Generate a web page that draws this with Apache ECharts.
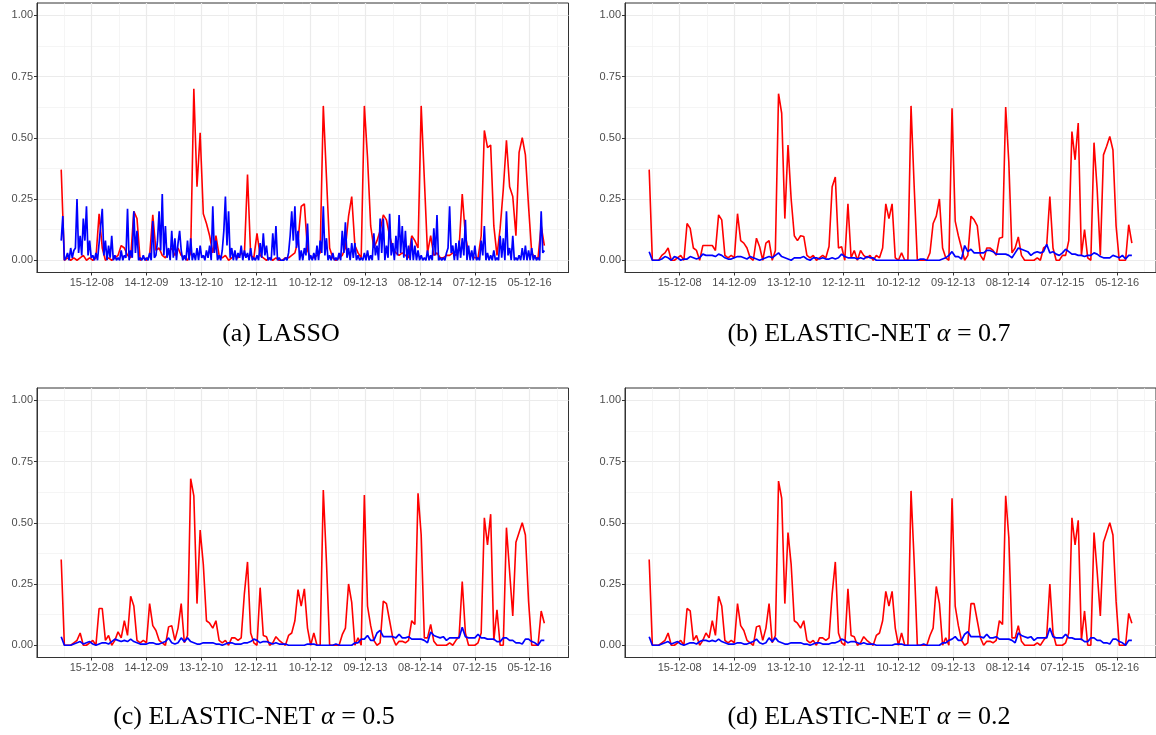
<!DOCTYPE html>
<html lang="en">
<head>
<meta charset="UTF-8">
<title>LASSO / ELASTIC-NET</title>
<script src="https://cdn.jsdelivr.net/npm/echarts@6/dist/echarts.min.js"></script>
<style>
  html, body { margin: 0; padding: 0; background: #fff; }
  #main { width: 1156px; height: 735px; }
</style>
</head>
<body>
<div id="main"></div>
<script>
// x = weeks relative to 15-12-08; series run from week -29 to week 430, evenly spaced
var firstWeek = -29;
var lastWeek = 430;
var tickLabels = ['15-12-08', '14-12-09', '13-12-10', '12-12-11', '10-12-12',
  '09-12-13', '08-12-14', '07-12-15', '05-12-16'];
var yTicks = [0, 0.25, 0.5, 0.75, 1];
var yMinor = [0.125, 0.375, 0.625, 0.875];
var captions = ['(a) LASSO', '(b) ELASTIC-NET {a|α} = 0.7',
  '(c) ELASTIC-NET {a|α} = 0.5', '(d) ELASTIC-NET {a|α} = 0.2'];

var redA = [0.37,0.00,0.01,0.00,0.01,0.00,0.01,0.02,0.00,0.01,
  0.00,0.01,0.19,0.05,0.00,0.01,0.00,0.01,0.02,0.06,
  0.05,0.02,0.01,0.20,0.17,0.00,0.01,0.00,0.02,0.185,
  0.04,0.05,0.02,0.01,0.03,0.05,0.02,0.05,0.02,0.01,
  0.00,0.03,0.70,0.30,0.52,0.19,0.15,0.10,0.03,0.10,
  0.02,0.01,0.02,0.00,0.01,0.02,0.01,0.03,0.02,0.35,
  0.02,0.01,0.11,0.02,0.01,0.00,0.01,0.00,0.01,0.00,
  0.00,0.01,0.01,0.02,0.03,0.08,0.22,0.23,0.04,0.01,
  0.01,0.02,0.03,0.63,0.34,0.05,0.01,0.00,0.01,0.02,
  0.05,0.18,0.26,0.06,0.03,0.01,0.63,0.42,0.14,0.05,
  0.08,0.12,0.185,0.165,0.10,0.05,0.03,0.02,0.03,0.02,
  0.01,0.10,0.08,0.05,0.63,0.33,0.03,0.10,0.02,0.03,
  0.01,0.01,0.02,0.02,0.03,0.02,0.05,0.27,0.10,0.03,
  0.02,0.01,0.01,0.10,0.53,0.46,0.47,0.14,0.02,0.13,
  0.29,0.49,0.30,0.26,0.10,0.44,0.50,0.43,0.22,0.03,
  0.01,0.01,0.14,0.06];
// LASSO blue, read at twice the density (peaks and the dips between them)
var blueA = [0.08,0.18,0.00,0.01,0.03,0.00,0.05,0.01,0.04,0.05,
  0.25,0.03,0.10,0.02,0.17,0.08,0.22,0.02,0.08,0.01,
  0.02,0.00,0.03,0.00,0.00,0.14,0.21,0.02,0.08,0.00,
  0.06,0.01,0.10,0.00,0.02,0.00,0.01,0.00,0.04,0.00,
  0.02,0.01,0.21,0.00,0.04,0.01,0.20,0.03,0.12,0.00,
  0.01,0.00,0.02,0.00,0.01,0.00,0.03,0.00,0.16,0.01,
  0.02,0.08,0.20,0.04,0.27,0.02,0.14,0.01,0.05,0.00,
  0.12,0.01,0.09,0.00,0.07,0.12,0.04,0.00,0.02,0.00,
  0.08,0.00,0.09,0.00,0.03,0.00,0.05,0.00,0.06,0.01,
  0.02,0.00,0.04,0.01,0.06,0.00,0.22,0.03,0.08,0.00,
  0.02,0.00,0.04,0.12,0.26,0.06,0.20,0.01,0.05,0.00,
  0.04,0.00,0.03,0.01,0.06,0.00,0.04,0.01,0.03,0.00,
  0.05,0.00,0.01,0.00,0.02,0.00,0.07,0.01,0.11,0.02,
  0.06,0.00,0.01,0.00,0.11,0.02,0.14,0.00,0.01,0.00,
  0.00,0.00,0.01,0.00,0.03,0.10,0.20,0.08,0.22,0.05,
  0.12,0.00,0.04,0.00,0.05,0.02,0.15,0.00,0.02,0.00,
  0.03,0.00,0.06,0.00,0.08,0.03,0.22,0.02,0.09,0.00,
  0.02,0.00,0.03,0.00,0.01,0.00,0.03,0.00,0.12,0.03,
  0.155,0.01,0.05,0.00,0.07,0.01,0.07,0.00,0.02,0.00,
  0.01,0.00,0.03,0.00,0.04,0.00,0.02,0.00,0.11,0.02,
  0.06,0.00,0.17,0.03,0.17,0.00,0.06,0.01,0.19,0.02,
  0.07,0.00,0.10,0.02,0.185,0.03,0.14,0.01,0.12,0.00,
  0.06,0.00,0.09,0.00,0.06,0.00,0.04,0.00,0.02,0.00,
  0.01,0.00,0.04,0.00,0.02,0.00,0.13,0.02,0.185,0.00,
  0.01,0.00,0.01,0.00,0.03,0.05,0.22,0.03,0.06,0.00,
  0.07,0.00,0.08,0.01,0.09,0.02,0.165,0.00,0.06,0.00,
  0.04,0.00,0.06,0.00,0.01,0.00,0.08,0.02,0.14,0.00,
  0.03,0.00,0.02,0.00,0.04,0.00,0.01,0.00,0.10,0.01,
  0.09,0.00,0.20,0.02,0.05,0.00,0.10,0.00,0.01,0.00,
  0.02,0.00,0.05,0.00,0.06,0.00,0.04,0.00,0.05,0.00,
  0.02,0.00,0.01,0.00,0.20,0.03,0.04];

var redB = [0.37,0.00,0.00,0.00,0.02,0.03,0.05,0.00,0.00,0.01,
  0.02,0.00,0.15,0.13,0.05,0.04,0.00,0.06,0.06,0.06,
  0.06,0.04,0.185,0.165,0.02,0.01,0.02,0.01,0.19,0.08,
  0.07,0.05,0.01,0.00,0.09,0.055,0.00,0.07,0.08,0.00,
  0.04,0.68,0.60,0.17,0.47,0.25,0.10,0.08,0.10,0.097,
  0.02,0.01,0.02,0.00,0.01,0.02,0.01,0.056,0.30,0.34,
  0.05,0.055,0.00,0.23,0.01,0.04,0.00,0.04,0.02,0.01,
  0.02,0.00,0.02,0.01,0.05,0.23,0.17,0.23,0.01,0.00,
  0.03,0.00,0.00,0.63,0.30,0.00,0.00,0.00,0.00,0.03,
  0.15,0.18,0.25,0.05,0.01,0.00,0.62,0.16,0.10,0.05,
  0.00,0.02,0.18,0.165,0.14,0.02,0.00,0.05,0.05,0.04,
  0.02,0.09,0.094,0.625,0.40,0.03,0.05,0.095,0.02,0.00,
  0.00,0.00,0.00,0.01,0.00,0.05,0.06,0.26,0.05,0.00,
  0.00,0.02,0.02,0.08,0.525,0.41,0.56,0.02,0.125,0.01,
  0.00,0.48,0.29,0.02,0.43,0.465,0.505,0.45,0.14,0.00,
  0.00,0.00,0.145,0.07];
var blueB = [0.035,0.00,0.00,0.00,0.005,0.015,0.01,0.00,0.015,0.01,
  0.00,0.005,0.005,0.015,0.01,0.005,0.01,0.025,0.02,0.02,
  0.02,0.015,0.025,0.02,0.01,0.005,0.005,0.01,0.015,0.015,
  0.01,0.005,0.015,0.01,0.005,0.00,0.005,0.01,0.015,0.01,
  0.02,0.03,0.015,0.01,0.005,0.00,0.01,0.01,0.01,0.015,
  0.005,0.00,0.01,0.01,0.005,0.01,0.005,0.005,0.01,0.005,
  0.01,0.025,0.015,0.01,0.01,0.01,0.005,0.01,0.005,0.015,
  0.01,0.01,0.00,0.00,0.00,0.00,0.00,0.00,0.00,0.00,
  0.00,0.00,0.00,0.00,0.00,0.00,0.005,0.005,0.00,0.00,
  0.00,0.00,0.00,0.005,0.01,0.02,0.035,0.015,0.015,0.005,
  0.06,0.035,0.045,0.03,0.03,0.03,0.03,0.04,0.04,0.035,
  0.025,0.025,0.025,0.025,0.02,0.01,0.03,0.05,0.045,0.04,
  0.035,0.02,0.03,0.035,0.03,0.035,0.065,0.03,0.035,0.025,
  0.02,0.03,0.045,0.035,0.025,0.025,0.02,0.02,0.015,0.02,
  0.02,0.03,0.025,0.015,0.01,0.01,0.01,0.02,0.015,0.01,
  0.02,0.005,0.02,0.02];

var redC = [0.35,0.00,0.00,0.00,0.01,0.02,0.05,0.00,0.00,0.01,
  0.02,0.00,0.15,0.15,0.02,0.04,0.00,0.02,0.055,0.03,
  0.10,0.04,0.20,0.16,0.02,0.01,0.02,0.01,0.17,0.08,
  0.06,0.02,0.01,0.00,0.075,0.08,0.02,0.07,0.17,0.01,
  0.04,0.68,0.61,0.17,0.47,0.33,0.10,0.09,0.07,0.10,
  0.02,0.01,0.02,0.00,0.03,0.03,0.02,0.03,0.21,0.34,
  0.05,0.01,0.00,0.235,0.04,0.035,0.00,0.01,0.035,0.02,
  0.01,0.00,0.04,0.05,0.10,0.227,0.16,0.23,0.07,0.00,
  0.05,0.00,0.00,0.634,0.34,0.00,0.00,0.00,0.00,0.043,
  0.07,0.25,0.175,0.00,0.03,0.00,0.613,0.16,0.08,0.02,
  0.00,0.01,0.18,0.17,0.10,0.03,0.00,0.016,0.016,0.01,
  0.02,0.10,0.085,0.62,0.45,0.03,0.03,0.085,0.016,0.00,
  0.00,0.00,0.00,0.01,0.00,0.02,0.036,0.26,0.05,0.00,
  0.00,0.00,0.01,0.05,0.52,0.41,0.535,0.02,0.145,0.00,
  0.00,0.48,0.30,0.12,0.42,0.46,0.50,0.45,0.18,0.00,
  0.00,0.00,0.14,0.09];
var blueC = [0.035,0.00,0.00,0.00,0.005,0.01,0.015,0.005,0.01,0.015,
  0.005,0.00,0.005,0.01,0.01,0.005,0.015,0.025,0.02,0.015,
  0.02,0.015,0.025,0.015,0.01,0.005,0.005,0.005,0.01,0.01,
  0.005,0.005,0.01,0.015,0.03,0.01,0.005,0.01,0.03,0.015,
  0.03,0.015,0.01,0.005,0.005,0.01,0.01,0.01,0.01,0.005,
  0.005,0.00,0.005,0.01,0.01,0.005,0.005,0.005,0.01,0.01,
  0.015,0.025,0.02,0.01,0.015,0.015,0.01,0.005,0.01,0.005,
  0.005,0.005,0.00,0.00,0.00,0.00,0.00,0.00,0.005,0.005,
  0.005,0.00,0.00,0.00,0.00,0.00,0.00,0.005,0.00,0.00,
  0.00,0.00,0.00,0.01,0.01,0.025,0.025,0.04,0.02,0.02,
  0.05,0.061,0.035,0.035,0.035,0.035,0.03,0.045,0.03,0.03,
  0.035,0.025,0.025,0.025,0.025,0.02,0.01,0.054,0.04,0.035,
  0.03,0.035,0.02,0.03,0.03,0.03,0.03,0.073,0.035,0.03,
  0.03,0.03,0.045,0.03,0.03,0.025,0.025,0.025,0.015,0.015,
  0.03,0.03,0.02,0.02,0.01,0.01,0.005,0.025,0.025,0.015,
  0.01,0.00,0.02,0.02];

var redD = [0.35,0.00,0.00,0.00,0.01,0.02,0.05,0.00,0.00,0.01,
  0.02,0.00,0.15,0.14,0.02,0.04,0.00,0.02,0.05,0.03,
  0.10,0.04,0.20,0.16,0.02,0.01,0.02,0.01,0.17,0.08,
  0.06,0.02,0.01,0.00,0.075,0.08,0.02,0.07,0.17,0.01,
  0.04,0.67,0.60,0.17,0.46,0.33,0.10,0.09,0.07,0.10,
  0.02,0.01,0.02,0.00,0.03,0.03,0.02,0.03,0.21,0.34,
  0.05,0.01,0.00,0.23,0.04,0.035,0.00,0.01,0.035,0.02,
  0.01,0.00,0.04,0.05,0.10,0.22,0.16,0.22,0.07,0.00,
  0.05,0.00,0.00,0.63,0.34,0.00,0.00,0.00,0.00,0.04,
  0.07,0.24,0.17,0.00,0.03,0.00,0.60,0.16,0.08,0.02,
  0.00,0.01,0.17,0.17,0.10,0.03,0.00,0.016,0.016,0.01,
  0.02,0.10,0.085,0.61,0.44,0.03,0.03,0.08,0.016,0.00,
  0.00,0.00,0.00,0.01,0.00,0.02,0.036,0.25,0.05,0.00,
  0.00,0.00,0.01,0.05,0.52,0.41,0.51,0.02,0.14,0.00,
  0.00,0.46,0.30,0.12,0.42,0.46,0.50,0.45,0.18,0.00,
  0.00,0.00,0.13,0.09];
var blueD = [0.035,0.00,0.00,0.00,0.005,0.01,0.015,0.005,0.01,0.015,
  0.005,0.00,0.005,0.01,0.01,0.005,0.015,0.02,0.02,0.015,
  0.02,0.015,0.025,0.015,0.01,0.005,0.005,0.005,0.01,0.01,
  0.005,0.005,0.01,0.015,0.025,0.01,0.005,0.01,0.03,0.015,
  0.03,0.015,0.01,0.005,0.005,0.01,0.01,0.01,0.01,0.005,
  0.005,0.00,0.005,0.01,0.01,0.005,0.005,0.005,0.01,0.01,
  0.015,0.025,0.02,0.01,0.015,0.015,0.01,0.005,0.01,0.005,
  0.005,0.005,0.00,0.00,0.00,0.00,0.00,0.00,0.005,0.005,
  0.005,0.00,0.00,0.00,0.00,0.00,0.00,0.005,0.00,0.00,
  0.00,0.00,0.00,0.01,0.01,0.02,0.025,0.035,0.02,0.02,
  0.045,0.055,0.035,0.035,0.035,0.035,0.03,0.045,0.03,0.03,
  0.035,0.025,0.025,0.025,0.025,0.02,0.01,0.05,0.04,0.035,
  0.03,0.035,0.02,0.03,0.03,0.03,0.03,0.07,0.035,0.03,
  0.03,0.03,0.045,0.03,0.03,0.025,0.025,0.025,0.015,0.015,
  0.03,0.03,0.02,0.02,0.01,0.01,0.005,0.025,0.025,0.015,
  0.01,0.00,0.02,0.02];

var chart = echarts.init(document.getElementById('main'), null, { renderer: 'canvas' });

var xMin = -52, xMax = 452.95;
var xMajor = [0, 52, 104, 156, 208, 260, 312, 364, 416];
var xMinorV = [-26, 26, 78, 130, 182, 234, 286, 338, 390, 442];

var panels = [
  { left: 37, top: 3, red: redA, blue: blueA, cx: 281, cy: 334 },
  { left: 625, top: 3, red: redB, blue: blueB, cx: 869, cy: 334 },
  { left: 37, top: 388, red: redC, blue: blueC, cx: 254, cy: 717 },
  { left: 625, top: 388, red: redD, blue: blueD, cx: 869, cy: 717 }
];

function toPoints(values) {
  var step = (lastWeek - firstWeek) / (values.length - 1);
  return values.map(function (v, i) { return [firstWeek + i * step, v]; });
}

var grids = [], xAxes = [], yAxes = [], series = [], texts = [];
panels.forEach(function (p, k) {
  grids.push({
    left: p.left, top: p.top, width: 531.5, height: 269.5,
    show: true, borderColor: '#333333', borderWidth: 1, backgroundColor: 'transparent'
  });
  // major x grid + labels
  xAxes.push({
    type: 'value', gridIndex: k, min: xMin, max: xMax, position: 'bottom',
    axisLine: { show: true, onZero: false, lineStyle: { color: '#333333', width: 1 } },
    axisTick: { show: true, length: 3, customValues: xMajor, lineStyle: { color: '#333333' } },
    axisLabel: {
      customValues: xMajor, color: '#4d4d4d', fontSize: 11, fontFamily: 'Liberation Sans', margin: 5,
      formatter: function (v) { return tickLabels[Math.round(v / 52)]; }
    },
    splitLine: { show: true, lineStyle: { color: '#ebebeb', width: 1.2 } }
  });
  // minor x grid
  xAxes.push({
    type: 'value', gridIndex: k, min: xMin, max: xMax,
    axisLine: { show: false }, axisLabel: { show: false },
    axisTick: { show: false, customValues: xMinorV },
    splitLine: { show: true, lineStyle: { color: '#f0f0f0', width: 0.7 } }
  });
  yAxes.push({
    type: 'value', gridIndex: k, min: -0.05, max: 1.05,
    axisLine: { show: true, onZero: false, lineStyle: { color: '#333333', width: 1 } },
    axisTick: { show: true, length: 3, customValues: yTicks, lineStyle: { color: '#333333' } },
    axisLabel: {
      customValues: yTicks, color: '#4d4d4d', fontSize: 11, fontFamily: 'Liberation Sans', margin: 4,
      formatter: function (v) { return v.toFixed(2); }
    },
    splitLine: { show: true, lineStyle: { color: '#ebebeb', width: 1.2 } }
  });
  yAxes.push({
    type: 'value', gridIndex: k, min: -0.05, max: 1.05,
    axisLine: { show: false }, axisLabel: { show: false },
    axisTick: { show: false, customValues: yMinor },
    splitLine: { show: true, lineStyle: { color: '#f0f0f0', width: 0.7 } }
  });
  series.push({
    type: 'line', xAxisIndex: 2 * k, yAxisIndex: 2 * k, data: toPoints(p.red),
    symbol: 'none', lineStyle: { color: '#ff0000', width: 1.6 }, z: 2, silent: true
  });
  series.push({
    type: 'line', xAxisIndex: 2 * k, yAxisIndex: 2 * k, data: toPoints(p.blue),
    symbol: 'none', lineStyle: { color: '#0000ff', width: 1.7 }, z: 3, silent: true
  });
  texts.push({
    type: 'text', x: p.cx, y: p.cy,
    style: {
      text: captions[k], fill: '#000', fontFamily: 'Liberation Serif', fontSize: 26,
      align: 'center', verticalAlign: 'middle',
      rich: { a: { fontStyle: 'italic', fontFamily: 'Liberation Serif', fontSize: 26 } }
    }
  });
});

chart.setOption({
  animation: false,
  backgroundColor: '#ffffff',
  grid: grids,
  xAxis: xAxes,
  yAxis: yAxes,
  series: series,
  graphic: texts
});
</script>
</body>
</html>
